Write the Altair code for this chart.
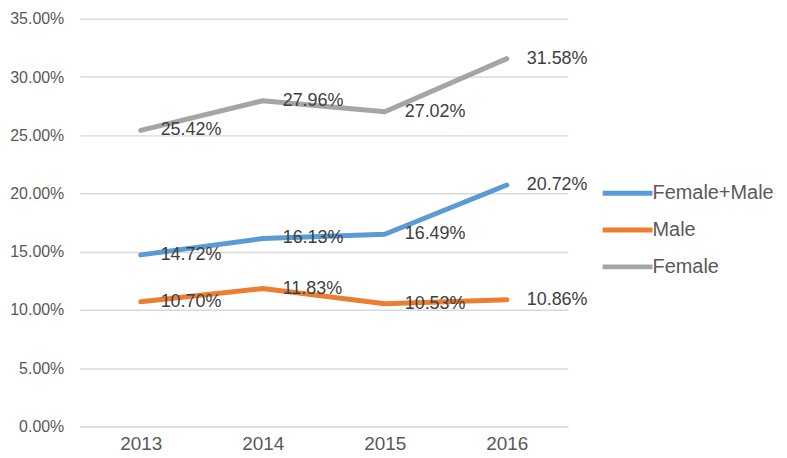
import altair as alt
import pandas as pd

years = ["2013", "2014", "2015", "2016"]
series = ["Female+Male", "Male", "Female"]
female_male = [14.72, 16.13, 16.49, 20.72]
male = [10.70, 11.83, 10.53, 10.86]
female = [25.42, 27.96, 27.02, 31.58]
colors = ["#5B9BD5", "#ED7D31", "#A5A5A5"]
y_ticks = [0, 0.05, 0.10, 0.15, 0.20, 0.25, 0.30, 0.35]

rows = []
for name, vals in zip(series, [female_male, male, female]):
    for yr, v in zip(years, vals):
        rows.append({"year": yr, "series": name, "value": v / 100, "label": f"{v:.2f}%"})
df = pd.DataFrame(rows)

FONT = "Liberation Sans"
TXT = "#595959"

x = alt.X(
    "year:O", sort=years,
    scale=alt.Scale(type="point", padding=0.5),
    axis=alt.Axis(title=None, labelAngle=0, ticks=False, domain=True, domainColor="#D9D9D9",
                  domainWidth=1.5, labelPadding=8, labelFontSize=19, labelColor=TXT,
                  labelFont=FONT, grid=False),
)
y = alt.Y(
    "value:Q",
    scale=alt.Scale(domain=[0, 0.35], nice=False),
    axis=alt.Axis(title=None, values=y_ticks, format=".2%", ticks=False, domain=False,
                  gridColor="#D9D9D9", gridWidth=1.5, labelPadding=16, labelFontSize=16,
                  labelColor=TXT, labelFont=FONT),
)
color = alt.Color(
    "series:N",
    scale=alt.Scale(domain=series, range=colors),
    legend=alt.Legend(title=None, orient="none", legendX=535, legendY=160,
                      symbolType="M-2,0H2", symbolSize=625, symbolStrokeWidth=5,
                      labelOffset=10, rowPadding=12, labelFontSize=20, labelColor=TXT,
                      labelFont=FONT),
)

lines = alt.Chart(df).mark_line(strokeWidth=5, strokeCap="round", strokeJoin="round").encode(
    x=x, y=y, color=color, detail="series:N"
)
labels = alt.Chart(df).mark_text(align="left", baseline="middle", dx=20, fontSize=18,
                                 font=FONT, color="#404040").encode(
    x=alt.X("year:O", sort=years), y="value:Q", text="label:N"
)

chart = alt.layer(lines, labels).properties(
    width=490, height=409,
    autosize=alt.AutoSizeParams(type="none"),
    padding={"left": 72, "top": 10, "right": 212, "bottom": 30},
).configure_view(stroke=None)

chart.save("out.html", embed_options={"renderer": "svg", "actions": False})
